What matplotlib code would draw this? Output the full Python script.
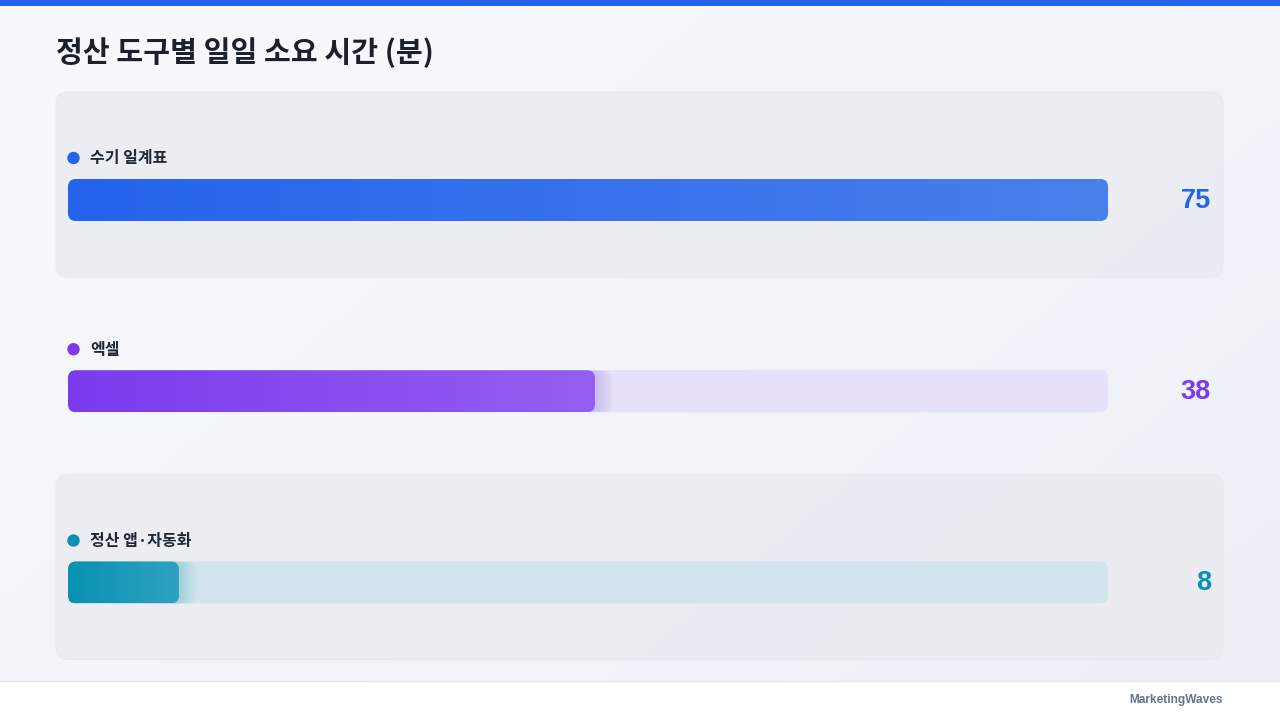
import numpy as np
import matplotlib
matplotlib.use("Agg")
import matplotlib.pyplot as plt
from matplotlib.patches import FancyBboxPatch, Circle, Rectangle
from matplotlib.colors import to_rgb

plt.rcParams['font.family'] = ['Noto Sans CJK KR', 'DejaVu Sans']

# ---- data ----
title = "정산 도구별 일일 소요 시간 (분)"
categories = ["수기 일계표", "엑셀", "정산 앱·자동화"]
values = [75, 38, 8]
colors_start = ["#2563eb", "#7c3aed", "#0891b2"]
colors_end = ["#4a80ec", "#945ff2", "#2fa3c0"]
track_colors = ["#dbe5fb", "#e6e0f8", "#d2e4ec"]
footer = "MarketingWaves"

W, H = 1280, 720
fig = plt.figure(figsize=(W / 100, H / 100), dpi=100)

# background axes in pixel coordinates
bg = fig.add_axes([0, 0, 1, 1])
bg.set_xlim(0, W)
bg.set_ylim(H, 0)
bg.axis('off')

# background gradient
gx = np.linspace(0, 1, 64)
gy = np.linspace(0, 1, 36)
GX, GY = np.meshgrid(gx, gy)
t = (GX * 0.6 + GY * 0.4)
c0 = np.array(to_rgb("#f7f9fc"))
c1 = np.array(to_rgb("#eef0f8"))
img = c0[None, None, :] * (1 - t[..., None]) + c1[None, None, :] * t[..., None]
bg.imshow(img, extent=[0, W, H, 0], aspect='auto', zorder=0, interpolation='bilinear')

# top stripe
bg.add_patch(Rectangle((0, 0), W, 6, color="#2563eb", zorder=5, lw=0))

# footer
bg.add_patch(Rectangle((0, 681), W, 39, color="white", zorder=5, lw=0))
bg.plot([0, W], [681, 681], color="#e2e8f0", lw=1, zorder=6)
bg.text(1223, 700, footer, ha='right', va='center', fontsize=8.6, fontweight='bold',
        color="#64748b", family=['Liberation Sans', 'DejaVu Sans'], zorder=7)

# title
bg.text(56, 53, title, ha='left', va='center', fontsize=21, fontweight='bold',
        color="#1a202c", zorder=7)

row0 = 200.0
step = 191.25
bar_h_px = 42

# cards for alternating rows
for i in range(len(categories)):
    cy = row0 + step * i
    if i % 2 == 0:
        card = FancyBboxPatch((56, cy - 108), 1167, 185,
                              boxstyle="round,pad=0,rounding_size=12",
                              fc="#eaecf2", ec="#e6e9f0", lw=0.8, zorder=1, alpha=0.85)
        bg.add_patch(card)
    # dot and label
    bg.add_patch(Circle((73.5, cy - 42), 5.5, color=colors_start[i], zorder=7))
    bg.text(90, cy - 41.5, categories[i], ha='left', va='center', fontsize=11.5,
            fontweight='bold', color="#1f2937", zorder=7)
    # value text
    bg.text(1211, cy + 1, str(values[i]), ha='right', va='center', fontsize=19.5,
            fontweight='bold', color=colors_start[i],
            family=['Liberation Sans', 'DejaVu Sans'], zorder=7)

# bar axes: x = data value
vmax = max(values)
ax = fig.add_axes([68 / W, 0, 1040 / W, 1])
ax.set_xlim(0, vmax)
ax.set_ylim((H - row0) / step, -row0 / step)
ax.axis('off')
ax.patch.set_alpha(0)

px_x = vmax / 1040.0   # data units per pixel in x
px_y = 1.0 / step      # data units per pixel in y
bar_h = bar_h_px * px_y
r_px = 8
aspect = px_y / px_x

for i, v in enumerate(values):
    y = i
    track = FancyBboxPatch((0, y - bar_h / 2), vmax, bar_h,
                           boxstyle=f"round,pad=0,rounding_size={r_px * px_x}",
                           mutation_aspect=aspect, fc=track_colors[i], ec='none', zorder=2)
    ax.add_patch(track)
    # soft glow to the right of the fill
    for k in range(1, 19):
        glow = FancyBboxPatch((0, y - bar_h / 2), v + k * px_x, bar_h,
                              boxstyle=f"round,pad=0,rounding_size={r_px * px_x}",
                              mutation_aspect=aspect, fc=colors_end[i], ec='none',
                              alpha=0.014, zorder=3)
        ax.add_patch(glow)
        glow.set_clip_path(track)
    fill = FancyBboxPatch((0, y - bar_h / 2), v, bar_h,
                          boxstyle=f"round,pad=0,rounding_size={r_px * px_x}",
                          mutation_aspect=aspect, fc='none', ec='none', zorder=4)
    ax.add_patch(fill)
    s = np.array(to_rgb(colors_start[i]))
    e = np.array(to_rgb(colors_end[i]))
    tt = np.linspace(0, 1, 256)
    grad = s[None, :] * (1 - tt[:, None]) + e[None, :] * tt[:, None]
    im = ax.imshow(grad[None, :, :], extent=[0, v, y + bar_h / 2, y - bar_h / 2],
                   aspect='auto', zorder=4, interpolation='bilinear')
    im.set_clip_path(fill)

ax.set_xlim(0, vmax)
ax.set_ylim((H - row0) / step, -row0 / step)

fig.savefig("out.png", dpi=100)
